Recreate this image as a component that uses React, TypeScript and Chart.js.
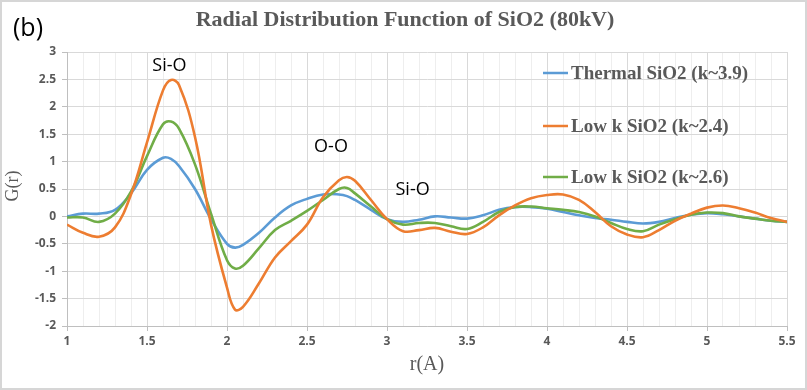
import React, { useEffect, useRef } from "react";
import { Chart, registerables } from "chart.js";

Chart.register(...registerables);

const rValues = [1.0, 1.1, 1.2, 1.3, 1.4, 1.5, 1.6, 1.65, 1.7, 1.8, 1.9, 2.0, 2.05, 2.1, 2.2, 2.3, 2.4, 2.5, 2.6, 2.7, 2.75, 2.8, 2.9, 3.0, 3.1, 3.2, 3.3, 3.4, 3.5, 3.6, 3.7, 3.8, 3.9, 4.0, 4.1, 4.2, 4.3, 4.4, 4.5, 4.6, 4.7, 4.8, 4.9, 5.0, 5.1, 5.2, 5.3, 5.4, 5.5];

const thermal = [0.0, 0.05, 0.05, 0.12, 0.42, 0.85, 1.07, 1.05, 0.92, 0.5, -0.05, -0.5, -0.57, -0.52, -0.3, -0.02, 0.2, 0.32, 0.4, 0.4, 0.37, 0.3, 0.12, -0.05, -0.1, -0.06, 0.0, -0.02, -0.04, 0.02, 0.12, 0.17, 0.17, 0.14, 0.08, 0.02, -0.03, -0.06, -0.1, -0.13, -0.1, -0.03, 0.03, 0.06, 0.04, 0.0, -0.04, -0.08, -0.1];

const lowK24 = [-0.15, -0.3, -0.37, -0.2, 0.4, 1.35, 2.3, 2.49, 2.4, 1.45, -0.15, -1.3, -1.7, -1.65, -1.22, -0.75, -0.45, -0.15, 0.35, 0.66, 0.72, 0.65, 0.3, -0.05, -0.27, -0.25, -0.21, -0.28, -0.32, -0.2, 0.02, 0.2, 0.33, 0.39, 0.4, 0.3, 0.08, -0.18, -0.33, -0.38, -0.25, -0.08, 0.05, 0.16, 0.2, 0.15, 0.07, -0.03, -0.1];

const lowK26 = [-0.02, -0.02, -0.1, 0.05, 0.45, 1.1, 1.68, 1.73, 1.6, 0.95, 0.05, -0.8, -0.95, -0.9, -0.58, -0.25, -0.08, 0.1, 0.3, 0.5, 0.52, 0.42, 0.18, -0.05, -0.15, -0.12, -0.12, -0.18, -0.23, -0.1, 0.08, 0.17, 0.18, 0.15, 0.12, 0.08, 0.0, -0.12, -0.23, -0.27, -0.15, -0.05, 0.03, 0.07, 0.06, 0.0, -0.04, -0.08, -0.1];

const seriesLabels = ["Thermal SiO2 (k~3.9)", "Low k SiO2 (k~2.4)", "Low k SiO2 (k~2.6)"];
const seriesColors = ["#5B9BD5", "#ED7D31", "#70AD47"];

const annotationTexts = ["Si-O", "O-O", "Si-O"];
const annotationR = [1.64, 2.65, 3.16];
const annotationG = [2.75, 1.26, 0.48];

const chartTitle = "Radial Distribution Function of SiO2 (80kV)";
const panelLabel = "(b)";
const xTitle = "r(A)";
const yTitle = "G(r)";

const isMajor = (v: number) => Math.abs(v * 2 - Math.round(v * 2)) < 1e-6;

const extrasPlugin = {
  id: "extras",
  beforeDraw(chart: any) {
    const { ctx, width, height } = chart;
    ctx.save();
    ctx.fillStyle = "#ffffff";
    ctx.fillRect(0, 0, width, height);
    ctx.strokeStyle = "#d6d6d6";
    ctx.lineWidth = 2;
    ctx.strokeRect(1, 1, width - 2, height - 2);
    ctx.restore();
  },
  afterDraw(chart: any) {
    const { ctx } = chart;
    const x = chart.scales.x;
    const y = chart.scales.y;
    ctx.save();
    ctx.fillStyle = "#595959";
    ctx.textAlign = "center";
    ctx.textBaseline = "middle";
    ctx.font = "bold 22px 'Liberation Serif'";
    ctx.fillText(chartTitle, 405, 20);
    ctx.fillStyle = "#000000";
    ctx.font = "25px 'Open Sans'";
    ctx.fillText(panelLabel, 28, 29);
    ctx.fillStyle = "#595959";
    ctx.font = "20px 'Liberation Serif'";
    ctx.fillText(xTitle, (x.left + x.right) / 2, 365);
    ctx.save();
    ctx.translate(13, 186);
    ctx.rotate(-Math.PI / 2);
    ctx.font = "18px 'Liberation Serif'";
    ctx.fillText(yTitle, 0, 0);
    ctx.restore();
    ctx.fillStyle = "#000000";
    ctx.font = "18px 'Open Sans'";
    annotationTexts.forEach((t, i) => {
      ctx.fillText(t, x.getPixelForValue(annotationR[i]), y.getPixelForValue(annotationG[i]));
    });
    const legendY = [73, 126, 177];
    ctx.textAlign = "left";
    ctx.font = "bold 19px 'Liberation Serif'";
    seriesLabels.forEach((lab, i) => {
      ctx.strokeStyle = seriesColors[i];
      ctx.lineWidth = 2.5;
      ctx.beginPath();
      ctx.moveTo(543, legendY[i]);
      ctx.lineTo(568, legendY[i]);
      ctx.stroke();
      ctx.fillStyle = "#595959";
      ctx.fillText(lab, 571, legendY[i] + 1);
    });
    ctx.restore();
  },
};

export default function App() {
  const ref = useRef<HTMLCanvasElement | null>(null);
  useEffect(() => {
    if (!ref.current) return;
    const seriesData = [thermal, lowK24, lowK26];
    const chart = new Chart(ref.current, {
      type: "line",
      data: {
        datasets: seriesData.map((arr, i) => ({
          label: seriesLabels[i],
          data: rValues.map((r, j) => ({ x: r, y: arr[j] })),
          borderColor: seriesColors[i],
          backgroundColor: seriesColors[i],
          borderWidth: 2.6,
          pointRadius: 0,
          tension: 0.4,
          fill: false,
          order: i === 1 ? 0 : i === 2 ? 1 : 2,
        })),
      },
      options: {
        responsive: false,
        animation: false,
        layout: { padding: { left: 0, right: 20, top: 52, bottom: 0 } },
        plugins: {
          legend: { display: false },
          title: { display: false },
          tooltip: { enabled: false },
        },
        scales: {
          x: {
            type: "linear",
            min: 1,
            max: 5.5,
            afterFit: (s: any) => {
              s.height = 64;
            },
            ticks: {
              stepSize: 0.1,
              autoSkip: false,
              maxRotation: 0,
              padding: 3,
              color: "#595959",
              font: { family: "'Open Sans'", size: 12, weight: "bold" },
              callback: (v: any) => {
                const n = Number(v);
                return isMajor(n) ? String(Math.round(n * 10) / 10) : "";
              },
            },
            grid: {
              color: (c: any) => (isMajor(c.tick.value) ? "#d9d9d9" : "#eeeeee"),
              tickColor: (c: any) => (isMajor(c.tick.value) ? "#bfbfbf" : "rgba(0,0,0,0)"),
              tickLength: 5,
            },
            border: { color: "#bfbfbf" },
          },
          y: {
            min: -2,
            max: 3,
            afterFit: (s: any) => {
              s.width = 67;
            },
            ticks: {
              stepSize: 0.5,
              padding: 6,
              color: "#595959",
              font: { family: "'Open Sans'", size: 12, weight: "bold" },
              callback: (v: any) => String(Math.round(Number(v) * 10) / 10),
            },
            grid: { color: "#d9d9d9", tickColor: "#bfbfbf", tickLength: 5 },
            border: { color: "#bfbfbf" },
          },
        },
      },
      plugins: [extrasPlugin],
    });
    return () => chart.destroy();
  }, []);
  return (
    <div style={{ position: "absolute", left: 0, top: 0, width: 807, height: 390 }}>
      <canvas ref={ref} width={807} height={390} />
    </div>
  );
}
